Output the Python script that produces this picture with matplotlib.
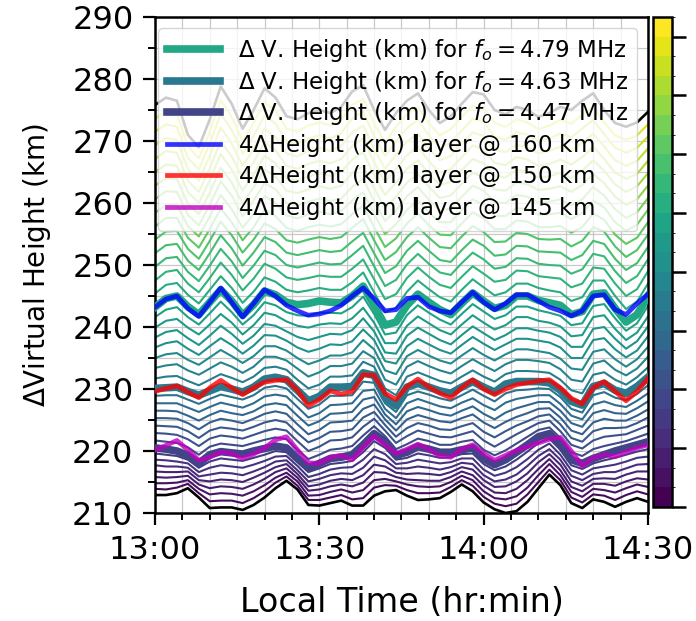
import matplotlib
matplotlib.use("Agg")
import matplotlib.pyplot as plt
import matplotlib.colors as mcolors
import matplotlib.cm as cm
import numpy as np
from matplotlib.ticker import MultipleLocator, FixedLocator, FixedFormatter

# ---------------- data ----------------
# time axis: minutes after 13:00 local time
minutes = [0, 2, 4, 6, 8, 10, 12, 14, 16, 18, 20, 22, 24, 26, 28, 30, 32, 34, 36, 38,
           40, 42, 44, 46, 48, 50, 52, 54, 56, 58, 60, 62, 64, 66, 68, 70, 72, 74, 76, 78,
           80, 82, 84, 86, 88, 90]
tick_minutes = [0, 30, 60, 90]
tick_labels = ['13:00', '13:30', '14:00', '14:30']

# virtual height (km) of each sounding frequency (MHz)
vh_4_31 = [212.9, 212.9, 213.2, 214.0, 212.5, 210.8, 210.9, 210.9, 210.5, 211.3, 212.5, 214.0, 215.2, 213.8, 211.3, 211.2, 211.6, 212.0, 211.2, 211.2, 212.8, 213.5, 213.7, 212.8, 212.1, 212.2, 212.4, 213.4, 214.6, 213.5, 211.7, 210.6, 210.0, 210.3, 211.8, 214.0, 216.2, 214.5, 211.6, 210.8, 212.2, 211.8, 211.0, 211.8, 212.4, 211.8]
vh_4_33 = [213.9, 213.8, 214.1, 214.7, 213.2, 211.9, 212.0, 212.0, 211.6, 212.4, 213.5, 214.9, 215.9, 214.4, 212.1, 212.1, 212.5, 212.9, 212.2, 212.4, 214.1, 214.5, 214.4, 213.7, 213.2, 213.2, 213.3, 214.2, 215.3, 214.4, 212.6, 211.5, 211.1, 211.5, 213.0, 215.0, 217.0, 215.3, 212.5, 211.7, 213.0, 212.8, 212.1, 212.9, 213.5, 213.0]
vh_4_35 = [214.8, 214.8, 214.9, 215.3, 213.9, 213.0, 213.2, 213.1, 212.8, 213.5, 214.5, 215.7, 216.5, 215.1, 212.8, 212.9, 213.4, 213.8, 213.3, 213.7, 215.3, 215.5, 215.1, 214.6, 214.3, 214.2, 214.3, 215.0, 216.0, 215.3, 213.5, 212.4, 212.2, 212.7, 214.1, 216.1, 217.9, 216.1, 213.4, 212.6, 213.9, 213.7, 213.3, 214.0, 214.6, 214.2]
vh_4_37 = [215.8, 215.7, 215.8, 216.0, 214.6, 214.0, 214.3, 214.2, 213.9, 214.6, 215.5, 216.6, 217.2, 215.7, 213.6, 213.8, 214.3, 214.6, 214.3, 214.9, 216.6, 216.5, 215.8, 215.4, 215.3, 215.2, 215.2, 215.8, 216.7, 216.1, 214.4, 213.3, 213.2, 213.9, 215.3, 217.1, 218.7, 216.9, 214.2, 213.5, 214.7, 214.7, 214.4, 215.1, 215.6, 215.4]
vh_4_39 = [216.7, 216.6, 216.6, 216.7, 215.3, 215.1, 215.4, 215.3, 215.0, 215.7, 216.5, 217.4, 217.9, 216.3, 214.3, 214.6, 215.2, 215.5, 215.3, 216.1, 217.8, 217.5, 216.5, 216.3, 216.4, 216.3, 216.1, 216.6, 217.4, 217.0, 215.3, 214.2, 214.3, 215.1, 216.4, 218.2, 219.5, 217.8, 215.1, 214.4, 215.5, 215.6, 215.5, 216.2, 216.7, 216.7]
vh_4_41 = [217.7, 217.5, 217.5, 217.3, 215.9, 216.2, 216.5, 216.4, 216.1, 216.7, 217.4, 218.3, 218.5, 216.9, 215.1, 215.5, 216.1, 216.4, 216.3, 217.3, 219.1, 218.5, 217.2, 217.2, 217.5, 217.3, 217.0, 217.4, 218.1, 217.9, 216.1, 215.1, 215.4, 216.2, 217.6, 219.2, 220.3, 218.6, 216.0, 215.3, 216.3, 216.6, 216.6, 217.2, 217.8, 217.9]
vh_4_43 = [218.6, 218.5, 218.3, 218.0, 216.6, 217.3, 217.7, 217.5, 217.3, 217.8, 218.4, 219.1, 219.2, 217.6, 215.8, 216.3, 217.0, 217.3, 217.4, 218.6, 220.3, 219.5, 217.9, 218.1, 218.6, 218.3, 218.0, 218.2, 218.8, 218.8, 217.0, 216.0, 216.5, 217.4, 218.7, 220.2, 221.2, 219.4, 216.9, 216.2, 217.2, 217.5, 217.8, 218.3, 218.9, 219.1]
vh_4_45 = [219.6, 219.4, 219.2, 218.6, 217.3, 218.3, 218.8, 218.6, 218.4, 218.9, 219.4, 220.0, 219.8, 218.2, 216.6, 217.2, 217.9, 218.1, 218.4, 219.8, 221.6, 220.5, 218.6, 218.9, 219.6, 219.3, 218.9, 219.0, 219.5, 219.6, 217.9, 216.9, 217.5, 218.6, 219.9, 221.3, 222.0, 220.2, 217.7, 217.1, 218.0, 218.5, 218.9, 219.4, 219.9, 220.3]
vh_4_47 = [220.5, 220.3, 220.0, 219.3, 218.0, 219.4, 219.9, 219.7, 219.5, 220.0, 220.4, 220.8, 220.5, 218.8, 217.3, 218.0, 218.8, 219.0, 219.4, 221.0, 222.8, 221.5, 219.3, 219.8, 220.7, 220.3, 219.8, 219.8, 220.2, 220.5, 218.8, 217.8, 218.6, 219.8, 221.0, 222.3, 222.8, 221.0, 218.6, 218.0, 218.8, 219.4, 220.0, 220.5, 221.0, 221.5]
vh_4_49 = [221.7, 221.5, 221.3, 220.6, 219.4, 220.7, 221.2, 221.0, 220.8, 221.3, 221.8, 222.2, 221.9, 220.2, 218.7, 219.4, 220.2, 220.4, 220.8, 222.5, 224.0, 222.4, 220.3, 221.1, 222.0, 221.6, 221.0, 221.0, 221.5, 221.8, 220.2, 219.3, 220.1, 221.2, 222.3, 223.4, 223.8, 222.1, 219.8, 219.2, 220.3, 220.8, 221.2, 221.6, 222.2, 222.8]
vh_4_51 = [222.9, 222.8, 222.6, 221.9, 220.8, 222.0, 222.5, 222.3, 222.0, 222.6, 223.2, 223.6, 223.3, 221.6, 220.0, 220.7, 221.7, 221.8, 222.2, 223.9, 225.2, 223.3, 221.3, 222.4, 223.3, 222.8, 222.3, 222.2, 222.7, 223.2, 221.7, 220.7, 221.7, 222.7, 223.6, 224.5, 224.9, 223.2, 221.0, 220.4, 221.7, 222.3, 222.5, 222.7, 223.4, 224.1]
vh_4_53 = [224.1, 224.0, 223.9, 223.2, 222.1, 223.3, 223.8, 223.6, 223.3, 223.9, 224.6, 225.0, 224.6, 222.9, 221.4, 222.1, 223.1, 223.2, 223.5, 225.4, 226.3, 224.2, 222.3, 223.7, 224.5, 224.1, 223.5, 223.4, 224.0, 224.5, 223.1, 222.2, 223.2, 224.1, 224.8, 225.6, 225.9, 224.3, 222.1, 221.5, 223.2, 223.7, 223.7, 223.8, 224.5, 225.4]
vh_4_55 = [225.3, 225.3, 225.2, 224.5, 223.5, 224.6, 225.2, 224.9, 224.5, 225.2, 226.0, 226.4, 226.0, 224.3, 222.7, 223.4, 224.6, 224.7, 224.9, 226.8, 227.5, 225.1, 223.3, 225.1, 225.8, 225.3, 224.8, 224.6, 225.3, 225.9, 224.6, 223.7, 224.7, 225.5, 226.1, 226.8, 226.9, 225.4, 223.3, 222.7, 224.6, 225.2, 224.9, 224.9, 225.7, 226.7]
vh_4_57 = [226.5, 226.5, 226.4, 225.7, 224.9, 225.8, 226.5, 226.1, 225.8, 226.4, 227.4, 227.7, 227.4, 225.7, 224.1, 224.8, 226.0, 226.1, 226.3, 228.3, 228.7, 225.9, 224.3, 226.4, 227.1, 226.6, 226.0, 225.7, 226.5, 227.2, 226.0, 225.1, 226.2, 226.9, 227.4, 227.9, 227.9, 226.5, 224.5, 223.9, 226.1, 226.6, 226.1, 226.0, 226.9, 228.0]
vh_4_59 = [227.7, 227.7, 227.7, 227.0, 226.3, 227.1, 227.8, 227.4, 227.0, 227.7, 228.8, 229.1, 228.8, 227.1, 225.4, 226.1, 227.4, 227.5, 227.7, 229.7, 229.9, 226.8, 225.3, 227.7, 228.4, 227.8, 227.2, 226.9, 227.8, 228.5, 227.4, 226.6, 227.8, 228.4, 228.7, 229.0, 229.0, 227.6, 225.7, 225.1, 227.5, 228.0, 227.4, 227.1, 228.1, 229.3]
vh_4_61 = [228.9, 229.0, 229.0, 228.3, 227.6, 228.4, 229.1, 228.7, 228.3, 229.0, 230.2, 230.5, 230.1, 228.4, 226.8, 227.5, 228.9, 228.9, 229.0, 231.2, 231.0, 227.7, 226.3, 229.0, 229.6, 229.1, 228.5, 228.1, 229.0, 229.9, 228.9, 228.0, 229.3, 229.8, 229.9, 230.1, 230.0, 228.7, 226.8, 226.2, 229.0, 229.5, 228.6, 228.2, 229.2, 230.6]
vh_4_63 = [230.1, 230.2, 230.3, 229.6, 229.0, 229.7, 230.4, 230.0, 229.5, 230.3, 231.6, 231.9, 231.5, 229.8, 228.1, 228.8, 230.3, 230.3, 230.4, 232.6, 232.2, 228.6, 227.3, 230.3, 230.9, 230.3, 229.7, 229.3, 230.3, 231.2, 230.3, 229.5, 230.8, 231.2, 231.2, 231.2, 231.0, 229.8, 228.0, 227.4, 230.4, 230.9, 229.8, 229.3, 230.4, 231.9]
vh_4_65 = [231.7, 232.0, 232.1, 231.3, 230.6, 231.5, 232.4, 231.8, 231.1, 232.0, 233.4, 233.6, 233.1, 231.5, 230.1, 230.7, 232.0, 232.0, 232.2, 234.4, 233.6, 230.1, 229.0, 232.0, 232.7, 232.0, 231.3, 230.9, 232.0, 233.0, 232.0, 231.2, 232.4, 232.9, 232.9, 232.8, 232.6, 231.5, 229.8, 229.3, 232.3, 232.7, 231.5, 230.7, 231.9, 233.5]
vh_4_67 = [233.4, 233.8, 234.0, 233.0, 232.3, 233.3, 234.3, 233.6, 232.6, 233.6, 235.2, 235.2, 234.6, 233.3, 232.0, 232.7, 233.7, 233.7, 234.1, 236.1, 235.0, 231.5, 230.7, 233.6, 234.5, 233.7, 233.0, 232.5, 233.7, 234.8, 233.8, 232.9, 234.0, 234.7, 234.7, 234.5, 234.2, 233.2, 231.5, 231.2, 234.1, 234.6, 233.1, 232.2, 233.3, 235.2]
vh_4_69 = [235.0, 235.6, 235.8, 234.7, 233.9, 235.1, 236.3, 235.3, 234.2, 235.3, 236.9, 236.9, 236.2, 235.0, 234.0, 234.6, 235.4, 235.4, 235.9, 237.9, 236.4, 233.0, 232.4, 235.3, 236.3, 235.4, 234.6, 234.1, 235.4, 236.6, 235.5, 234.6, 235.6, 236.4, 236.4, 236.1, 235.8, 234.9, 233.3, 233.1, 236.0, 236.4, 234.8, 233.6, 234.8, 236.8]
vh_4_71 = [236.7, 237.4, 237.7, 236.5, 235.5, 236.9, 238.2, 237.1, 235.7, 237.0, 238.7, 238.6, 237.8, 236.7, 236.0, 236.5, 237.2, 237.1, 237.7, 239.6, 237.9, 234.5, 234.1, 236.9, 238.1, 237.2, 236.3, 235.7, 237.1, 238.4, 237.3, 236.3, 237.2, 238.1, 238.1, 237.8, 237.5, 236.7, 235.0, 235.0, 237.9, 238.2, 236.4, 235.1, 236.2, 238.5]
vh_4_73 = [238.3, 239.2, 239.5, 238.2, 237.1, 238.6, 240.2, 238.9, 237.3, 238.6, 240.5, 240.2, 239.3, 238.4, 237.9, 238.4, 238.9, 238.8, 239.5, 241.4, 239.3, 235.9, 235.7, 238.6, 239.9, 238.9, 237.9, 237.2, 238.7, 240.1, 239.0, 237.9, 238.7, 239.8, 239.8, 239.4, 239.1, 238.4, 236.8, 236.8, 239.7, 240.0, 238.1, 236.5, 237.7, 240.1]
vh_4_75 = [239.9, 241.0, 241.3, 239.9, 238.8, 240.4, 242.1, 240.7, 238.8, 240.3, 242.3, 241.9, 240.9, 240.2, 239.9, 240.4, 240.6, 240.5, 241.4, 243.1, 240.7, 237.4, 237.4, 240.2, 241.7, 240.6, 239.5, 238.8, 240.4, 241.9, 240.7, 239.6, 240.3, 241.6, 241.6, 241.0, 240.7, 240.1, 238.5, 238.7, 241.6, 241.9, 239.7, 237.9, 239.1, 241.7]
vh_4_77 = [241.6, 242.8, 243.2, 241.6, 240.4, 242.2, 244.1, 242.4, 240.4, 241.9, 244.0, 243.5, 242.4, 241.9, 241.8, 242.3, 242.3, 242.2, 243.2, 244.9, 242.1, 238.8, 239.1, 241.9, 243.5, 242.3, 241.2, 240.4, 242.1, 243.7, 242.5, 241.3, 241.9, 243.3, 243.3, 242.7, 242.3, 241.8, 240.3, 240.6, 243.4, 243.7, 241.4, 239.4, 240.6, 243.4]
vh_4_79 = [243.2, 244.6, 245.0, 243.3, 242.0, 244.0, 246.0, 244.2, 241.9, 243.6, 245.8, 245.2, 244.0, 243.6, 243.8, 244.2, 244.0, 243.9, 245.0, 246.6, 243.5, 240.3, 240.8, 243.5, 245.3, 244.0, 242.8, 242.0, 243.8, 245.5, 244.2, 243.0, 243.5, 245.0, 245.0, 244.3, 243.9, 243.5, 242.0, 242.5, 245.3, 245.5, 243.0, 240.8, 242.0, 245.0]
vh_4_81 = [245.4, 246.8, 247.1, 245.2, 243.8, 246.0, 248.2, 246.3, 243.9, 245.7, 248.0, 247.3, 246.0, 245.6, 245.9, 246.3, 246.0, 246.0, 247.2, 248.8, 245.6, 242.4, 243.1, 245.7, 247.5, 246.1, 244.8, 244.1, 246.0, 247.7, 246.4, 245.1, 245.6, 247.0, 247.0, 246.3, 245.9, 245.6, 244.2, 244.8, 247.5, 247.5, 245.0, 242.9, 244.1, 247.0]
vh_4_83 = [247.5, 248.9, 249.2, 247.0, 245.6, 247.9, 250.4, 248.4, 245.9, 247.8, 250.2, 249.4, 248.0, 247.6, 247.9, 248.3, 248.1, 248.1, 249.4, 250.9, 247.7, 244.5, 245.3, 247.9, 249.6, 248.1, 246.8, 246.3, 248.1, 249.8, 248.6, 247.3, 247.6, 249.1, 249.0, 248.2, 248.0, 247.8, 246.4, 247.0, 249.6, 249.4, 247.0, 245.0, 246.1, 249.0]
vh_4_85 = [249.7, 251.1, 251.3, 248.9, 247.4, 249.9, 252.6, 250.6, 247.9, 249.9, 252.3, 251.6, 250.0, 249.6, 250.0, 250.4, 250.1, 250.2, 251.6, 253.1, 249.8, 246.6, 247.6, 250.1, 251.8, 250.2, 248.8, 248.4, 250.3, 252.0, 250.9, 249.4, 249.7, 251.1, 251.0, 250.2, 250.0, 249.9, 248.6, 249.3, 251.8, 251.4, 249.0, 247.1, 248.2, 250.9]
vh_4_87 = [251.9, 253.2, 253.4, 250.7, 249.2, 251.9, 254.8, 252.7, 249.9, 252.0, 254.5, 253.7, 252.0, 251.6, 252.0, 252.4, 252.1, 252.3, 253.8, 255.2, 251.9, 248.7, 249.8, 252.3, 253.9, 252.3, 250.8, 250.5, 252.4, 254.1, 253.1, 251.5, 251.7, 253.1, 253.0, 252.2, 252.1, 252.0, 250.8, 251.6, 253.9, 253.4, 251.0, 249.2, 250.3, 252.9]
vh_4_89 = [254.1, 255.4, 255.5, 252.6, 251.0, 253.9, 257.0, 254.8, 252.0, 254.1, 256.7, 255.8, 254.0, 253.6, 254.1, 254.5, 254.2, 254.5, 256.0, 257.4, 254.0, 250.8, 252.1, 254.5, 256.1, 254.4, 252.9, 252.7, 254.6, 256.3, 255.3, 253.7, 253.8, 255.2, 255.0, 254.2, 254.1, 254.2, 253.0, 253.9, 256.1, 255.4, 253.0, 251.3, 252.4, 254.9]
vh_4_91 = [256.2, 257.6, 257.6, 254.4, 252.8, 255.8, 259.1, 256.9, 254.0, 256.1, 258.9, 257.9, 256.0, 255.5, 256.1, 256.5, 256.2, 256.6, 258.2, 259.6, 256.1, 252.9, 254.3, 256.7, 258.3, 256.4, 254.9, 254.8, 256.7, 258.5, 257.5, 255.8, 255.8, 257.2, 257.0, 256.1, 256.1, 256.3, 255.2, 256.1, 258.3, 257.3, 254.9, 253.4, 254.4, 256.9]
vh_4_93 = [258.4, 259.7, 259.7, 256.3, 254.6, 257.8, 261.3, 259.0, 256.0, 258.2, 261.1, 260.0, 258.0, 257.5, 258.2, 258.6, 258.2, 258.7, 260.4, 261.7, 258.2, 255.0, 256.6, 258.9, 260.4, 258.5, 256.9, 256.9, 258.9, 260.6, 259.7, 257.9, 257.9, 259.2, 259.0, 258.1, 258.2, 258.4, 257.4, 258.4, 260.4, 259.3, 256.9, 255.5, 256.5, 258.9]
vh_4_95 = [260.6, 261.9, 261.8, 258.1, 256.4, 259.7, 263.5, 261.2, 257.9, 260.4, 263.2, 262.2, 260.0, 259.6, 260.2, 260.7, 260.3, 260.7, 262.6, 263.9, 260.3, 257.1, 258.8, 261.1, 262.6, 260.5, 258.8, 259.1, 261.0, 262.8, 262.0, 260.1, 260.0, 261.3, 261.0, 260.1, 260.2, 260.6, 259.6, 260.6, 262.6, 261.2, 259.0, 257.6, 258.5, 260.8]
vh_4_97 = [262.8, 264.0, 263.9, 259.9, 258.2, 261.7, 265.7, 263.3, 259.9, 262.5, 265.4, 264.3, 262.0, 261.6, 262.2, 262.7, 262.3, 262.8, 264.8, 266.0, 262.4, 259.2, 261.0, 263.3, 264.7, 262.6, 260.8, 261.2, 263.1, 264.9, 264.2, 262.2, 262.0, 263.3, 263.0, 262.1, 262.3, 262.7, 261.8, 262.9, 264.7, 263.2, 261.0, 259.7, 260.6, 262.8]
vh_4_99 = [265.0, 266.2, 266.0, 261.8, 260.0, 263.7, 267.9, 265.4, 262.0, 264.6, 267.6, 266.4, 264.0, 263.6, 264.3, 264.8, 264.4, 265.0, 267.0, 268.2, 264.5, 261.3, 263.3, 265.5, 266.9, 264.7, 262.9, 263.4, 265.3, 267.1, 266.4, 264.4, 264.1, 265.4, 265.0, 264.1, 264.3, 264.9, 264.0, 265.2, 266.9, 265.2, 263.0, 261.8, 262.7, 264.8]
vh_5_01 = [267.1, 268.4, 268.1, 263.6, 261.8, 265.6, 270.0, 267.5, 264.0, 266.6, 269.8, 268.5, 266.0, 265.5, 266.3, 266.8, 266.4, 267.1, 269.2, 270.4, 266.6, 263.4, 265.5, 267.7, 269.1, 266.7, 264.9, 265.5, 267.4, 269.3, 268.6, 266.5, 266.1, 267.4, 267.0, 266.0, 266.3, 267.0, 266.2, 267.4, 269.1, 267.1, 264.9, 263.9, 264.7, 266.8]
vh_5_03 = [269.3, 270.5, 270.2, 265.5, 263.6, 267.6, 272.2, 269.6, 266.0, 268.7, 272.0, 270.6, 268.0, 267.5, 268.4, 268.9, 268.4, 269.2, 271.4, 272.5, 268.7, 265.5, 267.8, 269.9, 271.2, 268.8, 266.9, 267.6, 269.6, 271.4, 270.8, 268.6, 268.2, 269.4, 269.0, 268.0, 268.4, 269.1, 268.4, 269.7, 271.2, 269.1, 266.9, 266.0, 266.8, 268.8]
vh_5_05 = [271.5, 272.7, 272.3, 267.3, 265.4, 269.6, 274.4, 271.8, 268.0, 270.8, 274.1, 272.8, 270.0, 269.5, 270.4, 270.9, 270.4, 271.3, 273.6, 274.7, 270.8, 267.6, 270.0, 272.1, 273.4, 270.9, 268.9, 269.7, 271.7, 273.6, 273.1, 270.7, 270.2, 271.4, 271.0, 270.0, 270.4, 271.2, 270.6, 272.0, 273.4, 271.1, 268.9, 268.1, 268.9, 270.7]
vh_5_07 = [273.6, 274.8, 274.4, 269.2, 267.2, 271.5, 276.6, 273.9, 270.0, 272.9, 276.3, 274.9, 272.0, 271.5, 272.5, 273.0, 272.5, 273.4, 275.8, 276.8, 272.9, 269.7, 272.3, 274.3, 275.5, 272.9, 270.9, 271.9, 273.9, 275.7, 275.3, 272.9, 272.3, 273.5, 273.0, 271.9, 272.5, 273.4, 272.8, 274.2, 275.5, 273.0, 270.9, 270.2, 270.9, 272.7]
vh_5_09 = [275.8, 277.0, 276.5, 271.0, 269.0, 273.5, 278.8, 276.0, 272.0, 275.0, 278.5, 277.0, 274.0, 273.5, 274.5, 275.0, 274.5, 275.5, 278.0, 279.0, 275.0, 271.8, 274.5, 276.5, 277.7, 275.0, 272.9, 274.0, 276.0, 277.9, 277.5, 275.0, 274.3, 275.5, 275.0, 273.9, 274.5, 275.5, 275.0, 276.5, 277.7, 275.0, 272.9, 272.3, 273.0, 274.7]

# 4 x layer height change (km) for three real-height layers
layer_160 = [243.2, 244.5, 245.0, 243.0, 241.7, 244.0, 246.3, 244.0, 241.6, 243.8, 246.0, 245.0, 243.5, 242.6, 241.9, 242.1, 242.6, 243.5, 245.0, 246.3, 244.6, 242.6, 242.8, 244.6, 244.8, 243.3, 242.6, 242.3, 244.0, 245.6, 244.0, 242.8, 243.8, 245.2, 245.2, 244.2, 243.2, 242.6, 241.8, 242.6, 245.0, 245.2, 242.8, 242.0, 243.8, 245.3]
layer_150 = [229.6, 230.1, 230.5, 229.5, 228.6, 230.2, 231.4, 230.2, 229.1, 230.2, 231.1, 231.4, 231.5, 229.8, 227.3, 228.3, 229.7, 229.2, 229.6, 232.3, 232.2, 229.3, 228.3, 230.4, 231.6, 230.3, 229.3, 228.6, 230.2, 231.5, 230.0, 229.1, 230.0, 230.7, 231.0, 231.3, 231.5, 230.2, 228.5, 227.6, 230.2, 231.2, 229.6, 228.1, 229.6, 231.7]
layer_145 = [220.1, 220.9, 221.7, 220.2, 218.5, 219.0, 219.8, 219.6, 218.8, 219.5, 220.5, 221.8, 222.3, 220.2, 218.1, 218.0, 219.0, 219.3, 218.6, 220.6, 222.4, 221.0, 219.6, 220.3, 221.1, 220.3, 219.2, 219.0, 220.3, 221.0, 219.6, 218.5, 219.3, 220.1, 220.7, 221.3, 221.9, 222.2, 220.0, 217.6, 218.9, 219.4, 219.1, 219.8, 220.5, 221.0]

freqs = [4.31, 4.33, 4.35, 4.37, 4.39, 4.41, 4.43, 4.45, 4.47, 4.49, 4.51, 4.53, 4.55,
         4.57, 4.59, 4.61, 4.63, 4.65, 4.67, 4.69, 4.71, 4.73, 4.75, 4.77, 4.79, 4.81,
         4.83, 4.85, 4.87, 4.89, 4.91, 4.93, 4.95, 4.97, 4.99, 5.01, 5.03, 5.05, 5.07, 5.09]
profiles = [vh_4_31, vh_4_33, vh_4_35, vh_4_37, vh_4_39, vh_4_41, vh_4_43, vh_4_45, vh_4_47,
            vh_4_49, vh_4_51, vh_4_53, vh_4_55, vh_4_57, vh_4_59, vh_4_61, vh_4_63, vh_4_65,
            vh_4_67, vh_4_69, vh_4_71, vh_4_73, vh_4_75, vh_4_77, vh_4_79, vh_4_81, vh_4_83,
            vh_4_85, vh_4_87, vh_4_89, vh_4_91, vh_4_93, vh_4_95, vh_4_97, vh_4_99, vh_5_01,
            vh_5_03, vh_5_05, vh_5_07, vh_5_09]
highlight_freqs = [4.79, 4.63, 4.47]
edge_freqs = [4.31, 5.09]
layer_heights = [160, 150, 145]
layer_series = [layer_160, layer_150, layer_145]
layer_colors = ['blue', 'red', 'm']

freq_min, freq_max, n_bands = 4.31, 5.11, 25

# ---------------- figure ----------------
fig = plt.figure(figsize=(6.96, 6.21), dpi=100)
ax = fig.add_axes([0.2227, 0.1739, 0.7083, 0.7987])
cax = fig.add_axes([0.9382, 0.1836, 0.0273, 0.7890])

viridis = plt.get_cmap('viridis')
norm = mcolors.Normalize(vmin=freq_min, vmax=freq_max)

for f, h in zip(freqs, profiles):
    if f in highlight_freqs:
        continue
    if f in edge_freqs:
        ax.plot(minutes, h, color='black', lw=1.9, zorder=2)
    else:
        ax.plot(minutes, h, color=viridis(norm(f)), lw=1.5, zorder=2)

for f in highlight_freqs:
    h = profiles[freqs.index(f)]
    ax.plot(minutes, h, color=viridis(norm(f)), lw=5.5, zorder=3,
            label=r'$\Delta$ V. Height (km) for $f_o = %.2f$ MHz' % f)

for hgt, s, c in zip(layer_heights, layer_series, layer_colors):
    ax.plot(minutes, s, color=c, lw=3.4, alpha=0.8, zorder=4,
            label=r'4$\Delta$Height (km) $\mathbf{l}$ayer @ %d km' % hgt)

ax.set_xlim(0, 90)
ax.set_ylim(210, 290)
ax.xaxis.set_major_locator(FixedLocator(tick_minutes))
ax.xaxis.set_major_formatter(FixedFormatter(tick_labels))
ax.xaxis.set_minor_locator(MultipleLocator(5))
ax.yaxis.set_major_locator(MultipleLocator(10))
ax.yaxis.set_minor_locator(MultipleLocator(5))
ax.grid(True, which='both', color='#c8c8c8', lw=0.9)
ax.set_axisbelow(True)
ax.tick_params(which='major', direction='out', length=8.5, width=1.6, labelsize=23, pad=7)
ax.tick_params(which='minor', direction='out', length=5, width=1.4)
for sp in ax.spines.values():
    sp.set_linewidth(1.8)
ax.set_xlabel('Local Time (hr:min)', fontsize=24, labelpad=15)
ax.set_ylabel(r'$\Delta$Virtual Height (km)', fontsize=20, labelpad=14)

leg = ax.legend(loc='upper left', bbox_to_anchor=(0.006, 0.978), borderaxespad=0,
                fontsize=16.5, labelspacing=0.2, handlelength=2.3, framealpha=0.8)
leg.set_zorder(10)

bounds = np.linspace(freq_min, freq_max, n_bands + 1)
cmap_disc = plt.get_cmap('viridis', n_bands)
bnorm = mcolors.BoundaryNorm(bounds, n_bands)
sm = cm.ScalarMappable(norm=bnorm, cmap=cmap_disc)
cb = fig.colorbar(sm, cax=cax, ticks=bounds[::3])
cb.ax.set_yticklabels([])
cb.ax.tick_params(length=10, width=1.8)
cb.outline.set_linewidth(1.8)

fig.savefig('out.png', dpi=100)
